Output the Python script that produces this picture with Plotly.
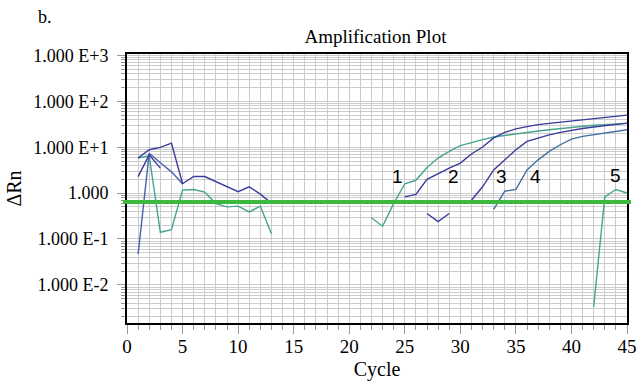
import math
import plotly.graph_objects as go

# ---- data ----
THRESHOLD = 0.64

# early-cycle background noise traces
noise_a_x = list(range(1, 14))
noise_a_y = [5.8, 8.8, 9.9, 12.3, 1.6, 2.3, 2.3, 1.77, 1.37, 1.07, 1.37, 0.95, 0.6]
noise_b_x = [1, 2, 3, 4, 5]
noise_b_y = [0.047, 7.4, 4.6, 2.9, 1.6]
noise_c_x = [1, 2, 3]
noise_c_y = [2.28, 6.8, 3.5]
noise_d_x = list(range(1, 14))
noise_d_y = [5.8, 6.5, 0.14, 0.16, 1.16, 1.2, 1.05, 0.59, 0.5, 0.52, 0.39, 0.52, 0.13]

# amplification curves 1-5
c1_x = list(range(22, 46))
c1_y = [0.29, 0.19, 0.59, 1.6, 1.9, 3.6, 5.8, 8.1, 10.8, 12.7, 14.6, 16.7, 18, 20,
        21, 22.5, 24, 25.5, 27, 28.5, 30, 31, 32, 33]
c2_x = list(range(25, 46))
c2_y = [0.83, 0.94, 2.0, 2.7, 3.5, 4.5, 7.1, 10.1, 15.9, 21, 25, 28, 31, 33, 35, 37,
        39, 42, 44, 47, 50]
c3_x = list(range(27, 46))
c3_y = [0.36, 0.24, 0.36, None, 0.70, 1.37, 3.2, 5.3, 8.8, 13.4, 16, 18.5, 21, 23.5,
        25.5, 27.5, 29.5, 31.5, 33.5]
c4_x = list(range(33, 46))
c4_y = [0.44, 1.1, 1.2, 3.2, 5.3, 8.1, 11.3, 15, 17.2, 18.8, 20.5, 22, 24]
c5_x = [42, 43, 44, 45]
c5_y = [0.0033, 0.83, 1.2, 1.0]

curve_labels = ["1", "2", "3", "4", "5"]
label_x = [24.3, 29.4, 33.7, 36.8, 44.0]
label_y = [2.3, 2.3, 2.3, 2.3, 2.4]

y_tickvals = [1e-2, 1e-1, 1, 1e1, 1e2, 1e3]
y_ticktext = ["1.000 E-2", "1.000 E-1", "1.000", "1.000 E+1", "1.000 E+2", "1.000 E+3"]

NAVY = "#3a3a9c"
TEAL = "#45a48f"
SLATE = "#3f70a0"
BLUE = "#4a62aa"

SERIF = "Liberation Serif"

fig = go.Figure()


def add(x, y, color, width=1.4):
    fig.add_trace(go.Scatter(x=x, y=y, mode="lines", line=dict(color=color, width=width),
                             connectgaps=False, showlegend=False, hoverinfo="skip"))


add(noise_d_x, noise_d_y, TEAL)
add(noise_b_x, noise_b_y, BLUE)
add(noise_c_x, noise_c_y, NAVY)
add(noise_a_x, noise_a_y, NAVY)
add(c5_x, c5_y, TEAL)
add(c4_x, c4_y, SLATE)
add(c1_x, c1_y, TEAL)
add(c3_x, c3_y, NAVY)
add(c2_x, c2_y, NAVY)

# threshold line
fig.add_shape(type="line", xref="paper", x0=-0.008, x1=1.008,
              yref="y", y0=THRESHOLD, y1=THRESHOLD,
              line=dict(color="#3cb83c", width=4), layer="above")

for t, lx, ly in zip(curve_labels, label_x, label_y):
    fig.add_annotation(x=lx, y=math.log10(ly), text=t, showarrow=False,
                       font=dict(family="Liberation Sans", size=19, color="black"))

fig.add_annotation(xref="paper", yref="paper", x=-0.182, y=1.137, text="b.",
                   showarrow=False, xanchor="left", yanchor="middle",
                   font=dict(family=SERIF, size=18, color="black"))

GRID = "#cbcbcb"
fig.update_layout(
    width=644, height=381,
    margin=dict(l=127, r=17, t=54, b=58, autoexpand=False),
    paper_bgcolor="white", plot_bgcolor="white",
    title=dict(text="Amplification Plot", x=0.583, xanchor="center", y=1 - 36 / 381,
               yanchor="middle", yref="container",
               font=dict(family=SERIF, size=19, color="black")),
    font=dict(family=SERIF, size=18, color="black"),
    xaxis=dict(range=[0, 45], dtick=5, tick0=0, showgrid=True, gridcolor=GRID, gridwidth=1,
               ticks="outside", ticklen=9, tickcolor="#999999", ticklabelstandoff=-4,
               showline=True, linecolor="black", linewidth=2, mirror=True,
               zeroline=False, automargin=False,
               minor=dict(dtick=1, showgrid=True, gridcolor=GRID, gridwidth=1,
                          ticks="outside", ticklen=5, tickcolor="#999999"),
               title=dict(text="Cycle", font=dict(family=SERIF, size=20), standoff=10),
               tickfont=dict(family=SERIF, size=19)),
    yaxis=dict(type="log", range=[-2.83, 3.03], tickmode="array", tickvals=y_tickvals,
               ticktext=y_ticktext, showgrid=True, gridcolor=GRID, gridwidth=1,
               ticks="outside", ticklen=8, tickcolor="#999999", ticklabelstandoff=5,
               showline=True, linecolor="black", linewidth=2, mirror=True,
               zeroline=False, automargin=False,
               minor=dict(dtick="D1", showgrid=True, gridcolor=GRID, gridwidth=1,
                          ticks="outside", ticklen=4, tickcolor="#999999"),
               title=dict(text="ΔRn", font=dict(family=SERIF, size=20), standoff=6),
               tickfont=dict(family=SERIF, size=18)),
)

fig.write_html("out.html")
